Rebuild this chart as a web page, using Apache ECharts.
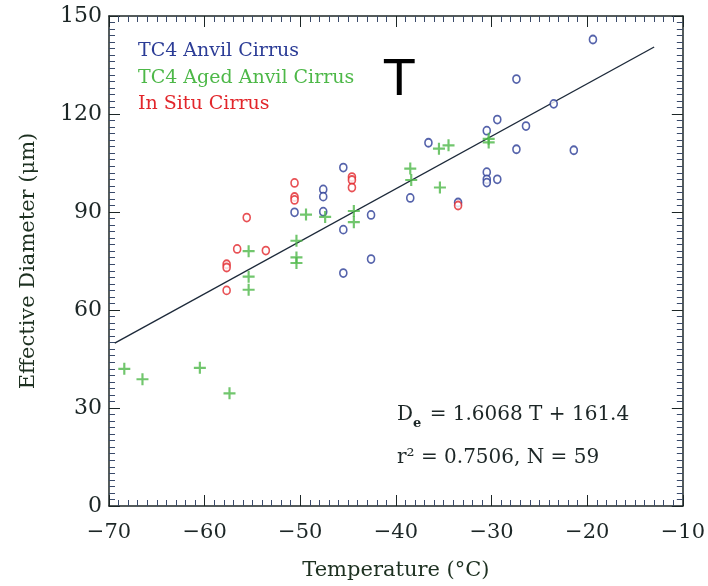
<!DOCTYPE html>
<html>
<head>
<meta charset="utf-8">
<script src="https://cdn.jsdelivr.net/npm/echarts@6/dist/echarts.min.js"></script>
<style>
html,body{margin:0;padding:0;background:#fff;}
#chart{width:708px;height:586px;}
</style>
</head>
<body>
<div id="chart"></div>
<script>
// ---- data ----
var anvilTemp = [-45.5,-47.6,-47.6,-50.6,-47.6,-42.6,-45.5,-42.6,-45.5,-38.5,-33.5,-19.4,-27.4,-23.5,-29.4,-26.4,-30.5,-27.4,-21.4,-30.5,-30.5,-30.5,-29.4,-36.6];
var anvilDiam = [103.6,96.9,94.7,89.9,90.1,89.1,84.6,75.6,71.3,94.3,92.9,142.8,130.7,123.1,118.3,116.3,114.9,109.2,108.9,102.2,100.0,99.0,100.0,111.2];

var agedTemp = [-55.4,-55.4,-55.4,-49.4,-47.4,-44.4,-44.4,-50.4,-50.4,-50.4,-38.5,-38.4,-35.4,-35.5,-34.5,-30.3,-30.3,-68.4,-66.5,-60.5,-57.4];
var agedDiam = [78.0,70.2,66.2,89.2,88.5,90.3,86.9,81.2,76.1,74.4,103.3,99.8,97.5,109.4,110.4,112.4,111.3,42.0,38.8,42.3,34.5];

var situTemp = [-55.6,-56.6,-53.6,-57.7,-57.7,-57.7,-50.6,-50.6,-50.6,-44.6,-44.6,-44.6,-33.5];
var situDiam = [88.3,78.7,78.2,74.0,73.0,66.0,98.9,94.6,93.7,100.7,99.8,97.5,92.0];

var fitSlope = 1.6068, fitIntercept = 161.4, fitRange = [-69.4, -13.0];
var xTicks = [-70,-60,-50,-40,-30,-20,-10];
var yTicks = [0,30,60,90,120,150];
var seriesNames = ['TC4 Anvil Cirrus','TC4 Aged Anvil Cirrus','In Situ Cirrus'];

var BLUE = '#2b3c96', GREEN = '#4db848', RED = '#e2262b', INK = '#1c2626';
var SERIF = '"DejaVu Serif", "Liberation Serif", serif';

function pairs(xs, ys){ return xs.map(function(x,i){ return [x, ys[i]]; }); }
var fitLine = fitRange.map(function(t){ return [t, fitSlope*t + fitIntercept]; });

var plusPath = 'path://M4.1,0H5.9V4.1H10V5.9H5.9V10H4.1V5.9H0V4.1H4.1Z';

function xAx(pos, showLabel){
  return {
    type:'value', position:pos, min:xTicks[0], max:xTicks[xTicks.length-1], interval:10,
    axisLine:{show:true, onZero:false, lineStyle:{color:INK, width:1.5}},
    axisTick:{show:true, inside:true, length:11, lineStyle:{color:INK, width:1}},
    minorTick:{show:true, splitNumber:10, length:6, lineStyle:{color:'#3a4a6a', width:1}},
    splitLine:{show:false},
    axisLabel:{show:showLabel, margin:16, color:INK, fontFamily:SERIF, fontSize:21,
      formatter:function(v){ return v<0 ? '\u2212'+Math.abs(v) : String(v); }},
    name: showLabel ? 'Temperature (\u00B0C)' : '',
    nameLocation:'middle', nameGap:54,
    nameTextStyle:{color:'#1d3020', fontFamily:SERIF, fontSize:21}
  };
}
function yAx(pos, showLabel){
  return {
    type:'value', position:pos, min:yTicks[0], max:yTicks[yTicks.length-1], interval:30,
    axisLine:{show:true, onZero:false, lineStyle:{color:INK, width:1.5}},
    axisTick:{show:true, inside:true, length:11, lineStyle:{color:INK, width:1}},
    minorTick:{show:true, splitNumber:15, length:6, lineStyle:{color:'#3a4a6a', width:1}},
    splitLine:{show:false},
    axisLabel:{show:showLabel, margin:7, color:INK, fontFamily:SERIF, fontSize:22},
    name: showLabel ? 'Effective Diameter (\u03BCm)' : '',
    nameLocation:'middle', nameGap:70, nameRotate:90,
    nameTextStyle:{color:'#1d3020', fontFamily:SERIF, fontSize:21}
  };
}

var chart = echarts.init(document.getElementById('chart'), null, {renderer:'canvas'});
chart.setOption({
  backgroundColor:'#ffffff',
  animation:false,
  grid:{left:109, right:25, top:16, bottom:78},
  xAxis:[xAx('bottom', true), xAx('top', false)],
  yAxis:[yAx('left', true), yAx('right', false)],
  series:[
    {type:'line', data:fitLine, symbol:'none', lineStyle:{color:'#1d2a3a', width:1.4}, z:1},
    {name:seriesNames[0], type:'scatter', data:pairs(anvilTemp, anvilDiam), symbol:'circle', symbolSize:[7,8],
      itemStyle:{color:'#ffffff', borderColor:BLUE, borderWidth:1.7}, z:3},
    {name:seriesNames[1], type:'scatter', data:pairs(agedTemp, agedDiam), symbol:plusPath, symbolSize:12,
      itemStyle:{color:GREEN}, z:3},
    {name:seriesNames[2], type:'scatter', data:pairs(situTemp, situDiam), symbol:'circle', symbolSize:[7,8],
      itemStyle:{color:'#ffffff', borderColor:RED, borderWidth:1.7}, z:3}
  ],
  graphic:[
    {type:'text', left:138, top:42, style:{text:seriesNames[0], fill:BLUE, font:'19px '+SERIF}},
    {type:'text', left:138, top:69, style:{text:seriesNames[1], fill:GREEN, font:'19px '+SERIF}},
    {type:'text', left:138, top:95, style:{text:seriesNames[2], fill:RED, font:'19px '+SERIF}},
    {type:'text', left:384, top:57, style:{text:'T', fill:'#000', font:'50px "DejaVu Sans", sans-serif'}},
    {type:'text', left:397, top:405, style:{
      text:'{m|D}{s|e}{m| = 1.6068 T + 161.4}',
      rich:{
        m:{fill:INK, font:'20px '+SERIF, verticalAlign:'bottom'},
        s:{fill:INK, font:'bold 13px '+SERIF, verticalAlign:'bottom', padding:[0,2,-5,0]}
      }}},
    {type:'text', left:397, top:448, style:{text:'r\u00B2 = 0.7506, N = 59', fill:INK, font:'20px '+SERIF}}
  ]
});
</script>
</body>
</html>
